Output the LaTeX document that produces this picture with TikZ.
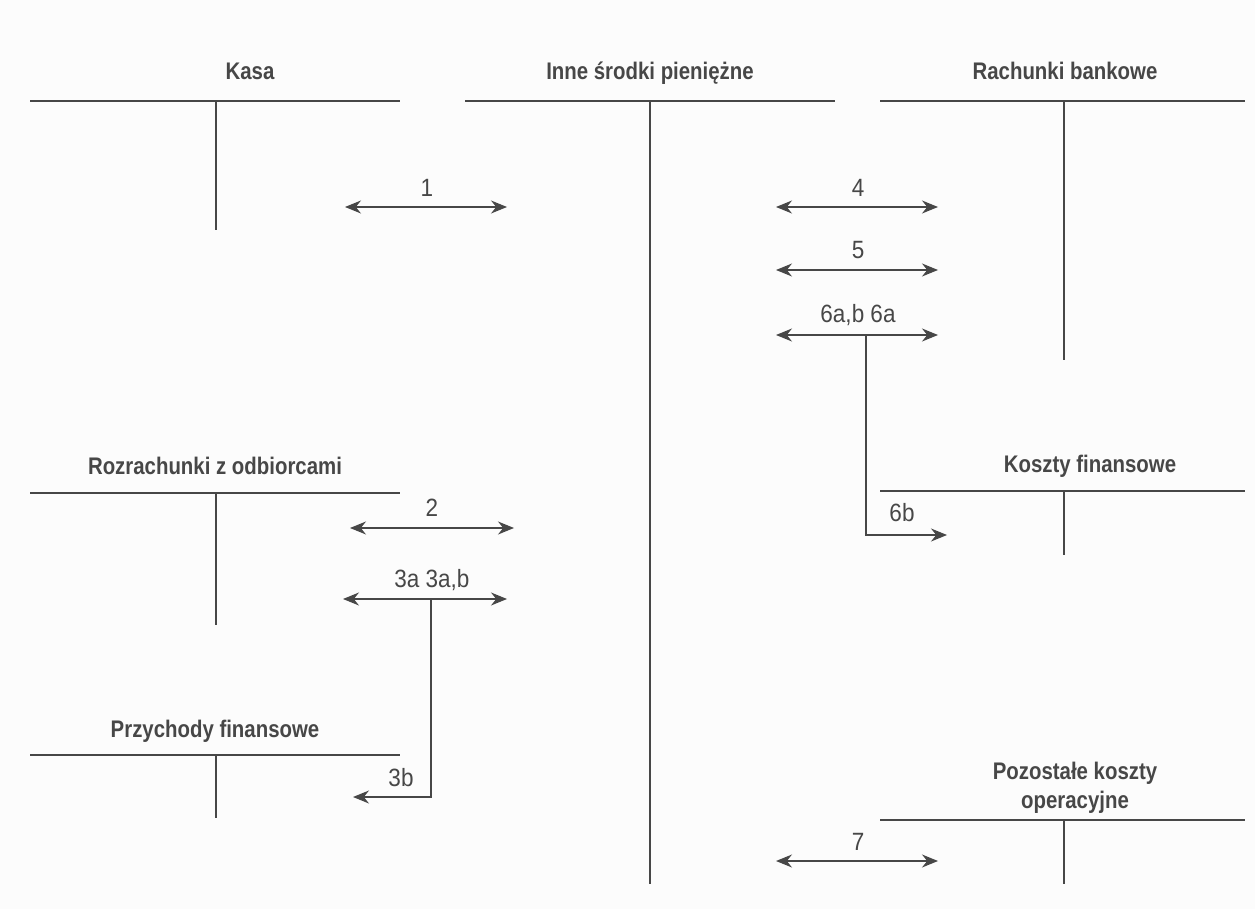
\documentclass[tikz,border=0pt]{standalone}
\usepackage{fontspec}
\setmainfont{Liberation Sans}
\newfontfamily\ttlfont[FakeStretch=0.85]{Liberation Sans}
\newfontfamily\lblfont[FakeStretch=0.9]{Liberation Sans}
\usetikzlibrary{arrows.meta}
\definecolor{ink}{HTML}{474747}
\definecolor{paper}{HTML}{FCFCFC}
\tikzset{
  acct/.style={draw=ink, line width=1.4pt},
  title/.style={text=ink, font=\ttlfont\fontsize{24}{29}\selectfont\bfseries, inner sep=0pt, align=center, anchor=base},
  lbl/.style={text=ink, font=\lblfont\fontsize{25}{27}\selectfont, inner sep=0pt},
  flow/.style={draw=ink, line width=1.3pt, {Stealth[length=16pt,width=13pt]}-{Stealth[length=16pt,width=13pt]}},
  one/.style={draw=ink, line width=1.3pt, -{Stealth[length=16pt,width=13pt]}},
}
\begin{document}
\begin{tikzpicture}[x=1pt,y=-1pt]
\fill[paper] (0,0) rectangle (1255,909);
\useasboundingbox (0,0) rectangle (1255,909);

% Kasa
\node[title] (kasa) at (250,80) {Kasa};
\coordinate (kasaL) at (30,101); \coordinate (kasaR) at (400,101);
\coordinate (kasaT) at (216,101); \coordinate (kasaB) at (216,230);
\draw[acct] (kasaL) -- (kasaR); \draw[acct] (kasaT) -- (kasaB);

% Inne srodki pieniezne
\node[title] (isp) at (650,80) {Inne środki pieniężne};
\coordinate (ispL) at (465,101); \coordinate (ispR) at (835,101);
\coordinate (ispT) at (650,101); \coordinate (ispB) at (650,884);
\draw[acct] (ispL) -- (ispR); \draw[acct] (ispT) -- (ispB);

% Rachunki bankowe
\node[title] (rb) at (1065,80) {Rachunki bankowe};
\coordinate (rbL) at (880,101); \coordinate (rbR) at (1245,101);
\coordinate (rbT) at (1064,101); \coordinate (rbB) at (1064,360);
\draw[acct] (rbL) -- (rbR); \draw[acct] (rbT) -- (rbB);

% Rozrachunki z odbiorcami
\node[title] (rzo) at (215,474) {Rozrachunki z odbiorcami};
\coordinate (rzoL) at (30,493); \coordinate (rzoR) at (400,493);
\coordinate (rzoT) at (216,493); \coordinate (rzoB) at (216,625);
\draw[acct] (rzoL) -- (rzoR); \draw[acct] (rzoT) -- (rzoB);

% Przychody finansowe
\node[title] (pf) at (215,737) {Przychody finansowe};
\coordinate (pfL) at (30,755); \coordinate (pfR) at (400,755);
\coordinate (pfT) at (216,755); \coordinate (pfB) at (216,818);
\draw[acct] (pfL) -- (pfR); \draw[acct] (pfT) -- (pfB);

% Koszty finansowe
\node[title] (kf) at (1090,472) {Koszty finansowe};
\coordinate (kfL) at (880,491); \coordinate (kfR) at (1245,491);
\coordinate (kfT) at (1064,491); \coordinate (kfB) at (1064,555);
\draw[acct] (kfL) -- (kfR); \draw[acct] (kfT) -- (kfB);

% Pozostale koszty operacyjne
\node[title, anchor=center] (pko) at (1075,788) {Pozostałe koszty\\operacyjne};
\coordinate (pkoL) at (880,820); \coordinate (pkoR) at (1245,820);
\coordinate (pkoT) at (1064,820); \coordinate (pkoB) at (1064,884);
\draw[acct] (pkoL) -- (pkoR); \draw[acct] (pkoT) -- (pkoB);

% Arrow 1
\coordinate (a1L) at (345,207); \coordinate (a1R) at (507,207);
\draw[flow] (a1L) -- (a1R);
\node[lbl] (l1) at (427,188) {1};

% Arrow 4
\coordinate (a4L) at (776,207); \coordinate (a4R) at (938,207);
\draw[flow] (a4L) -- (a4R);
\node[lbl] (l4) at (858,188) {4};

% Arrow 5
\coordinate (a5L) at (776,270); \coordinate (a5R) at (938,270);
\draw[flow] (a5L) -- (a5R);
\node[lbl] (l5) at (858,250) {5};

% Arrow 6
\coordinate (a6L) at (776,335); \coordinate (a6R) at (938,335);
\draw[flow] (a6L) -- (a6R);
\node[lbl] (l6) at (858,315) {6a,b 6a};
\coordinate (a6J) at (866,335); \coordinate (a6K) at (866,535); \coordinate (a6E) at (947,535);
\draw[one] (a6J) -- (a6K) -- (a6E);
\node[lbl] (l6b) at (902,513) {6b};

% Arrow 2
\coordinate (a2L) at (350,528); \coordinate (a2R) at (514,528);
\draw[flow] (a2L) -- (a2R);
\node[lbl] (l2) at (432,508) {2};

% Arrow 3
\coordinate (a3L) at (343,599); \coordinate (a3R) at (507,599);
\draw[flow] (a3L) -- (a3R);
\node[lbl] (l3) at (432,580) {3a 3a,b};
\coordinate (a3J) at (431,599); \coordinate (a3K) at (431,797); \coordinate (a3E) at (353,797);
\draw[one] (a3J) -- (a3K) -- (a3E);
\node[lbl] (l3b) at (401,778) {3b};

% Arrow 7
\coordinate (a7L) at (776,861); \coordinate (a7R) at (938,861);
\draw[flow] (a7L) -- (a7R);
\node[lbl] (l7) at (858,842) {7};
\end{tikzpicture}
\end{document}
